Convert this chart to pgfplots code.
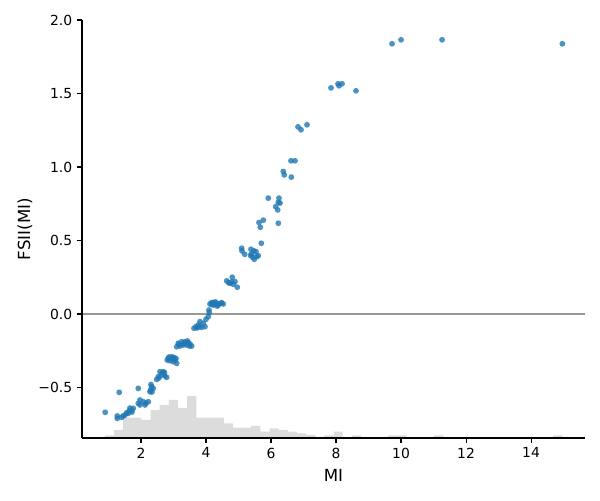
\documentclass[border=0pt]{standalone}
\usepackage{fontspec}
\setmainfont{DejaVu Sans}
\usepackage{pgfplots}
\pgfplotsset{compat=1.18}
\definecolor{shapblue}{HTML}{1F77B4}
\definecolor{histgray}{RGB}{220,220,220}
\definecolor{zerogray}{RGB}{153,153,153}
\begin{document}
\begin{tikzpicture}
\path[use as bounding box] (-59pt,-44.64pt) rectangle (372.96pt,315.36pt);
\begin{axis}[
  scale only axis, width=362.2pt, height=301pt,
  xmin=0.185, xmax=15.66, ymin=-0.844, ymax=2.0,
  axis on top,
  axis lines*=left, axis line style={line width=0.8pt, -},
  tick align=outside, major tick length=3.5pt, tick style={line width=0.8pt, black},
  xtick={2,4,6,8,10,12,14}, ytick={-0.5,0,0.5,1,1.5,2},
  xticklabels={2,4,6,8,10,12,14},
  yticklabels={−0.5,0.0,0.5,1.0,1.5,2.0},
  ticklabel style={font=\fontsize{10}{12}\selectfont},
  xlabel={MI}, ylabel={FSII(MI)},
  label style={font=\fontsize{12}{14}\selectfont},
  xlabel style={at={(axis description cs:0.5,-0.0884)}, anchor=center},
  ylabel style={at={(axis description cs:-0.1132,0.5)}, anchor=center},
]
% histogram (step polygon)
\addplot[const plot, fill=histgray, draw=none] coordinates {
(0.890,-0.844) (0.890,-0.825) (1.171,-0.789) (1.453,-0.705) (1.734,-0.705) (2.016,-0.721)
(2.297,-0.653) (2.578,-0.619) (2.860,-0.585) (3.141,-0.639) (3.423,-0.558)
(3.704,-0.705) (3.985,-0.705) (4.267,-0.705) (4.548,-0.744) (4.830,-0.773)
(5.111,-0.773) (5.392,-0.762) (5.674,-0.801) (5.955,-0.778) (6.237,-0.789)
(6.518,-0.801) (6.799,-0.812) (7.081,-0.822) (7.362,-0.844) (7.644,-0.825)
(7.925,-0.801) (8.206,-0.844) (8.488,-0.825) (8.769,-0.844) (9.613,-0.825)
(10.176,-0.844) (11.020,-0.825) (11.302,-0.844) (14.679,-0.825) (14.960,-0.825)
(14.960,-0.844) (0.890,-0.844)
};
% zero line
\addplot[zerogray, line width=0.9pt] coordinates {(0.185,0) (15.66,0)};
% scatter
\addplot[only marks, mark=*, mark size=2.1pt, mark options={fill=shapblue, draw opacity=0, fill opacity=0.8}] coordinates {
(0.900,-0.669) (1.271,-0.694) (1.271,-0.710) (1.332,-0.533) (1.406,-0.703)
(1.455,-0.694) (1.508,-0.688) (1.560,-0.672) (1.609,-0.676) (1.640,-0.658)
(1.714,-0.654) (1.763,-0.642) (1.662,-0.640) (1.723,-0.667) (1.917,-0.506)
(1.917,-0.608) (1.969,-0.585) (1.969,-0.619) (2.071,-0.597) (2.123,-0.619)
(2.225,-0.597) (2.154,-0.606) (2.277,-0.529) (2.298,-0.517) (2.329,-0.495)
(2.378,-0.506) (2.338,-0.531) (2.308,-0.480) (2.483,-0.445) (2.532,-0.427)
(2.585,-0.393) (2.637,-0.415) (2.686,-0.393) (2.738,-0.422) (2.791,-0.431)
(2.554,-0.436) (2.662,-0.402) (2.723,-0.398) (2.809,-0.313) (2.840,-0.302)
(2.892,-0.318) (2.945,-0.291) (2.994,-0.325) (3.046,-0.313) (3.098,-0.336)
(2.969,-0.303) (3.015,-0.296) (3.077,-0.303) (2.862,-0.293) (3.098,-0.223)
(3.148,-0.199) (3.200,-0.218) (3.252,-0.189) (3.302,-0.211) (3.354,-0.189)
(3.406,-0.211) (3.455,-0.195) (3.508,-0.204) (3.560,-0.218) (3.431,-0.184)
(3.323,-0.201) (3.169,-0.208) (3.492,-0.218) (3.631,-0.097) (3.692,-0.086)
(3.763,-0.075) (3.815,-0.052) (3.868,-0.091) (3.917,-0.063) (3.969,-0.086)
(3.723,-0.095) (3.785,-0.088) (4.000,-0.036) (4.071,-0.018) (4.102,0.009)
(4.092,0.027) (4.123,0.068) (4.175,0.077) (4.225,0.077) (4.246,0.061)
(4.329,0.073) (4.378,0.061) (4.452,0.073) (4.483,0.077) (4.532,0.068)
(4.348,0.054) (4.185,0.063) (4.292,0.082) (4.637,0.225) (4.698,0.213)
(4.738,0.209) (4.809,0.250) (4.840,0.202) (4.892,0.220) (4.963,0.182)
(4.785,0.218) (5.098,0.447) (5.108,0.429) (5.191,0.406) (5.385,0.440)
(5.477,0.429) (5.538,0.424) (5.375,0.397) (5.437,0.386) (5.486,0.372)
(5.560,0.390) (5.609,0.397) (5.394,0.408) (5.631,0.622) (5.763,0.638)
(5.671,0.590) (5.702,0.481) (5.917,0.788) (6.246,0.788) (6.225,0.760)
(6.277,0.754) (6.145,0.730) (6.206,0.708) (6.225,0.617) (6.378,0.969)
(6.409,0.946) (6.625,0.931) (6.615,1.042) (6.738,1.042) (6.831,1.273)
(6.923,1.253) (7.108,1.287) (7.846,1.538) (8.092,1.552) (8.185,1.566)
(8.062,1.566) (8.615,1.518) (9.723,1.838) (10.000,1.865) (11.262,1.865)
(14.963,1.838)
};
\end{axis}
\end{tikzpicture}
\end{document}
